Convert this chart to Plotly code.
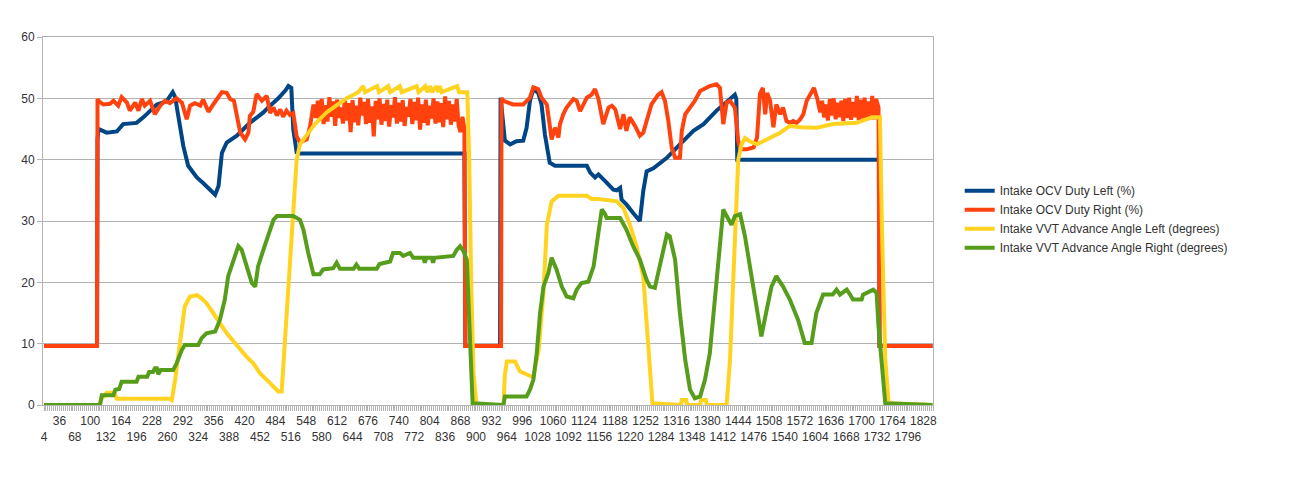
import plotly.graph_objects as go

# ---------------- data ----------------
# x = sample index (category), y = value
blue_x = [4, 114, 115, 117, 134, 155, 168, 196, 210, 224, 238, 258, 271, 276, 286, 293, 303, 321, 334,
          348, 359, 366, 373, 383, 404, 431, 459, 473, 490, 505, 511, 517, 521, 528, 535, 876, 878,
          950, 951, 960, 971, 984, 998, 1005, 1012, 1019, 1029, 1036, 1043, 1053, 1064, 1130, 1137,
          1147, 1154, 1168, 1185, 1192, 1199, 1202, 1212, 1226, 1240, 1247, 1254, 1268, 1296, 1323,
          1351, 1372, 1399, 1427, 1437, 1440, 1442, 1736, 1737, 1847]
blue_y = [9.6, 9.6, 43.3, 45.0, 44.4, 44.6, 45.8, 46.0, 46.9, 48.0, 49.0, 49.5, 51.0, 50.2, 45.8, 42.2,
          39.0, 37.1, 36.2, 35.1, 34.3, 35.7, 41.1, 42.8, 43.9, 46.0, 47.7, 48.8, 50.0, 51.3, 52.0, 51.7,
          45.0, 41.2, 41.0, 41.0, 9.6, 9.6, 50.1, 43.1, 42.5, 43.0, 43.1, 45.2, 49.6, 51.5, 50.9, 49.0,
          44.1, 39.5, 39.0, 39.0, 37.9, 37.1, 37.6, 36.5, 35.1, 35.0, 35.4, 33.5, 32.7, 31.3, 30.0, 34.9,
          38.1, 38.6, 40.3, 42.5, 44.7, 45.8, 48.0, 49.9, 50.6, 49.9, 40.0, 40.0, 9.6, 9.6]

orange_x_a = [4, 114, 115, 117, 127, 141, 148, 158, 165, 176, 182, 193, 200, 207, 213, 224, 234, 245,
              255, 265, 279, 290, 300, 307, 317, 328, 334, 345, 355, 366, 373, 383, 390, 398, 404, 411,
              421, 428, 431, 438, 445, 456, 466, 473, 480, 487, 494, 500, 507, 514, 521, 528, 535, 549,
              556, 563]
orange_y_a = [9.6, 9.6, 49.9, 49.6, 49.0, 49.1, 49.6, 48.8, 50.2, 49.3, 48.0, 49.3, 48.0, 49.9, 48.8,
              49.6, 47.4, 48.8, 49.6, 49.2, 50.0, 49.3, 46.6, 48.8, 49.2, 48.8, 49.8, 47.8, 49.0, 50.4,
              51.0, 50.9, 49.9, 49.6, 47.1, 44.4, 43.3, 44.4, 47.1, 47.8, 50.7, 49.6, 50.4, 47.6, 48.5,
              47.2, 48.2, 47.0, 48.0, 47.3, 47.6, 43.8, 42.8, 43.3, 45.5, 49.0]
orange_x_b = [568, 572, 576, 580, 584, 588, 592, 596, 600, 604, 608, 612, 616, 620, 624, 628, 632, 636,
              640, 644, 648, 652, 656, 660, 664, 668, 672, 676, 680, 684, 688, 692, 696, 700, 704, 708,
              712, 716, 720, 724, 728, 732, 736, 740, 744, 748, 752, 756, 760, 764, 768, 772, 776, 780,
              784, 788, 792, 796, 800, 804, 808, 812, 816, 820, 824, 828, 832, 836, 840, 844, 848, 852,
              856, 860, 864]
orange_y_b = [46.8, 49.6, 46.5, 49.9, 45.8, 48.9, 46.2, 50.2, 47.0, 49.5,
              45.5, 49.8, 46.8, 48.5, 45.9, 50.0, 46.4, 49.2, 44.5, 49.7,
              46.1, 48.8, 45.6, 50.1, 47.2, 49.4, 45.8, 49.9, 46.0, 48.7,
              43.8, 49.6, 46.6, 50.0, 45.7, 49.1, 46.3, 49.8, 45.4, 48.9,
              46.9, 50.2, 45.9, 49.3, 46.2, 49.7, 45.5, 48.6, 47.0, 49.9,
              45.8, 49.4, 46.4, 50.1, 44.9, 49.0, 46.0, 49.8, 45.6, 48.8,
              46.7, 50.0, 45.9, 49.5, 46.1, 49.2, 45.3, 50.3, 46.6, 49.6,
              45.7, 49.0, 46.2, 49.9, 45.5]
orange_x_c = [868, 872, 876, 878, 952, 953, 957, 977, 998, 1012, 1019, 1029, 1036, 1047, 1057, 1064,
              1071, 1074, 1081, 1088, 1095, 1102, 1109, 1116, 1123, 1130, 1140, 1147, 1154, 1164, 1175,
              1182, 1189, 1199, 1206, 1212, 1219, 1230, 1240, 1247, 1254, 1264, 1278, 1285, 1292, 1299,
              1306, 1313, 1323, 1327, 1334, 1344, 1354, 1365, 1385, 1399, 1406, 1413, 1420, 1427, 1437,
              1444, 1448, 1462, 1476, 1483, 1489, 1495, 1500, 1504, 1510, 1517, 1523, 1531, 1537, 1544,
              1551, 1558, 1565, 1572, 1579, 1586, 1593, 1601, 1608, 1614]
orange_y_c = [44.5, 47.0, 45.0, 9.6, 9.6, 50.0, 49.6, 49.0, 49.0, 50.1, 51.8, 51.5, 50.1, 49.0, 43.3,
              45.2, 43.6, 45.7, 47.4, 48.5, 49.3, 49.9, 49.6, 47.9, 49.0, 50.1, 50.6, 51.5, 49.9, 45.8,
              48.5, 48.8, 48.2, 45.0, 47.4, 44.7, 46.9, 45.5, 43.9, 44.4, 46.3, 49.0, 50.6, 51.0, 49.6,
              46.3, 42.0, 40.3, 40.3, 44.7, 47.4, 48.5, 49.6, 51.2, 52.0, 52.3, 51.7, 45.8, 49.3, 49.6,
              48.5, 43.1, 41.7, 41.7, 42.0, 43.6, 50.7, 51.7, 47.4, 50.9, 49.6, 45.3, 49.0, 47.4, 48.5,
              46.3, 46.0, 46.3, 46.0, 46.5, 47.4, 49.6, 50.7, 51.7, 49.9, 47.7]
orange_x_d = [1618, 1622, 1626, 1630, 1634, 1638, 1642, 1646, 1650, 1654, 1658, 1662, 1666, 1670, 1674,
              1678, 1682, 1686, 1690, 1694, 1698, 1702, 1706, 1710, 1714, 1718, 1722, 1726, 1730, 1735,
              1737, 1847]
orange_y_d = [49.6, 46.9, 49.0, 46.4, 49.9, 47.2, 50.0, 46.6, 49.3, 46.9, 49.6, 46.3, 49.9, 46.8, 50.1,
              46.5, 49.4, 46.9, 50.4, 46.4, 49.8, 46.7, 50.1, 46.5, 49.5, 46.6, 50.4, 46.6, 49.9, 48.5,
              9.6, 9.6]

yellow_x = [4, 120, 123, 130, 134, 150, 155, 265, 269, 276, 283, 290, 296, 307, 321, 331, 341, 355, 369,
            383, 397, 411, 424, 438, 452, 466, 480, 490, 497, 500, 507, 514, 521, 528, 535, 549, 563,
            576, 590, 604, 618, 632, 646, 656, 666, 670, 695, 699, 718, 722, 742, 746, 777, 781, 795,
            799, 805, 809, 818, 822, 825, 829, 861, 865, 882, 886, 890, 895, 901, 957, 960, 964, 981,
            991, 1008, 1019, 1030, 1040, 1047, 1057, 1071, 1109, 1130, 1140, 1154, 1192, 1206, 1219,
            1233, 1247, 1254, 1261, 1266, 1325, 1327, 1336, 1338, 1365, 1367, 1377, 1379, 1420, 1427,
            1434, 1439, 1444, 1451, 1458, 1468, 1483, 1503, 1510, 1531, 1551, 1575, 1607, 1641, 1690,
            1721, 1738, 1742, 1749, 1756, 1847]
yellow_y = [0, 0, 1.0, 1.5, 2.0, 2.0, 1.0, 1.0, 0.8, 4.1, 8.5, 12.8, 16.1, 17.7, 17.9, 17.4, 16.6,
            15.0, 13.4, 11.7, 10.4, 9.0, 7.9, 6.8, 5.2, 4.1, 3.0, 2.2, 2.2, 5.7, 13.9, 23.7, 32.4, 40.0,
            42.5, 44.0, 45.5, 46.6, 47.7, 48.5, 49.3, 50.0, 50.6, 51.0, 52.0, 51.0, 52.0, 51.0, 52.0,
            51.0, 52.0, 51.0, 52.0, 51.0, 52.0, 51.0, 52.0, 51.0, 52.0, 51.0, 52.0, 51.0, 52.0, 51.0,
            51.0, 40.0, 20.0, 5.0, 0, 0, 5.0, 7.1, 7.1, 5.5, 4.9, 4.5, 9.0, 18.3, 29.4, 33.2, 34.1,
            34.1, 34.1, 33.6, 33.6, 33.2, 32.1, 29.5, 25.9, 21.0, 12.8, 4.1, 0.3, 0, 0.8, 0.8, 0, 0,
            0.8, 0.8, 0, 0, 7.4, 21.0, 31.9, 40.0, 42.5, 43.5, 43.0, 42.5, 43.3, 43.6, 44.4, 45.5, 45.3,
            45.2, 45.8, 46.0, 46.9, 46.9, 29.1, 7.4, 0.3, 0]

green_x = [4, 120, 124, 148, 152, 160, 165, 196, 200, 218, 222, 230, 234, 238, 241, 246, 272, 279, 290,
           296, 324, 331, 341, 359, 369, 379, 386, 397, 407, 414, 424, 435, 442, 448, 459, 469, 480,
           487, 521, 535, 542, 552, 563, 576, 583, 604, 611, 618, 646, 652, 658, 694, 700, 722, 728,
           742, 749, 763, 770, 791, 794, 797, 808, 811, 814, 853, 860, 867, 874, 881, 884, 889, 893,
           957, 960, 1005, 1012, 1019, 1026, 1033, 1040, 1050, 1057, 1067, 1078, 1088, 1102, 1109,
           1119, 1133, 1144, 1154, 1161, 1168, 1171, 1199, 1212, 1226, 1240, 1254, 1261, 1271, 1282,
           1296, 1302, 1313, 1323, 1334, 1344, 1354, 1365, 1375, 1385, 1396, 1406, 1413, 1420, 1430,
           1437, 1448, 1458, 1468, 1479, 1492, 1503, 1513, 1523, 1537, 1551, 1568, 1582, 1596, 1606,
           1620, 1640, 1648, 1655, 1669, 1676, 1682, 1700, 1703, 1724, 1731, 1735, 1742, 1749, 1847]
green_y = [0, 0, 1.6, 1.6, 2.5, 2.6, 3.8, 3.8, 4.6, 4.6, 5.4, 5.4, 6.0, 6.0, 5.0, 5.7, 5.7, 6.8, 9.0,
           9.8, 9.8, 10.9, 11.7, 12.0, 13.9, 17.2, 21.0, 23.7, 25.9, 25.3, 22.6, 19.9, 19.3, 22.6,
           25.3, 27.5, 30.2, 30.8, 30.8, 30.2, 28.6, 24.8, 21.3, 21.3, 22.1, 22.3, 23.2, 22.2, 22.2,
           22.9, 22.2, 22.2, 23.0, 23.4, 24.8, 24.8, 24.3, 24.8, 24.0, 24.0, 23.2, 24.0, 24.0, 23.2,
           24.0, 24.3, 25.3, 25.9, 25.1, 23.7, 18.3, 7.4, 0.3, 0, 1.4, 1.4, 2.5, 4.1, 8.4, 15.0, 19.3,
           21.5, 24.0, 22.1, 19.3, 17.7, 17.4, 18.8, 19.9, 20.1, 22.6, 28.1, 31.9, 31.1, 30.5, 30.5,
           28.6, 25.9, 23.7, 20.4, 19.3, 19.1, 23.2, 27.8, 27.5, 23.7, 15.0, 7.4, 2.5, 1.1, 1.4, 4.1,
           8.4, 17.2, 26.4, 31.9, 30.8, 29.4, 30.8, 31.1, 27.5, 22.6, 17.2, 11.2, 15.5, 19.3, 21.0,
           19.3, 17.2, 13.9, 10.1, 10.1, 15.0, 18.0, 18.0, 18.8, 18.0, 18.8, 18.0, 17.2, 17.2, 18.0,
           18.8, 18.3, 12.8, 5.7, 0.3, 0]

series_names = ["Intake OCV Duty Left (%)", "Intake OCV Duty Right (%)",
                "Intake VVT Advance Angle Left (degrees)", "Intake VVT Advance Angle Right (degrees)"]
series_colors = ["#004586", "#ff420e", "#ffd320", "#579d1c"]

x_tick_values = [4, 36, 68, 100, 132, 164, 196, 228, 260, 292, 324, 356, 388, 420, 452, 484, 516, 548,
                 580, 612, 644, 676, 708, 740, 772, 804, 836, 868, 900, 932, 964, 996, 1028, 1060, 1092,
                 1124, 1156, 1188, 1220, 1252, 1284, 1316, 1348, 1380, 1412, 1444, 1476, 1508, 1540,
                 1572, 1604, 1636, 1668, 1700, 1732, 1764, 1796, 1828]
y_tick_values = [0, 10, 20, 30, 40, 50, 60]

# ---------------- figure ----------------
orange_x = orange_x_a + orange_x_b + orange_x_c + orange_x_d
orange_y = orange_y_a + orange_y_b + orange_y_c + orange_y_d
xs = [blue_x, orange_x, yellow_x, green_x]
ys = [blue_y, orange_y, yellow_y, green_y]

fig = go.Figure()
for name, color, x, y in zip(series_names, series_colors, xs, ys):
    fig.add_trace(go.Scatter(x=x, y=y, mode="lines", name=name,
                             line=dict(color=color, width=4)))

# staggered labels: even index on lower row, odd index on upper row
tick_text = [("<br>" + str(v)) if i % 2 == 0 else str(v) for i, v in enumerate(x_tick_values)]

font_family = "Liberation Sans, Arial, sans-serif"
fig.update_layout(
    width=1293, height=485,
    margin=dict(l=43, r=360, t=37, b=80),
    paper_bgcolor="white", plot_bgcolor="white",
    font=dict(family=font_family, size=12, color="#333333"),
    showlegend=True,
    legend=dict(x=1.03, y=0.505, xanchor="left", yanchor="middle",
                font=dict(family=font_family, size=12, color="#333333"),
                bgcolor="rgba(0,0,0,0)", tracegroupgap=0, itemwidth=30),
)
fig.update_xaxes(
    range=[1.9, 1848], tickmode="array", tickvals=x_tick_values, ticktext=tick_text,
    showgrid=False, zeroline=False, showline=True, linecolor="#b3b3b3", linewidth=1, mirror=True,
    ticks="outside", ticklen=5, tickcolor="#b3b3b3", tickangle=0,
    tickfont=dict(family=font_family, size=12, color="#333333"),
    minor=dict(ticks="outside", ticklen=5, tickcolor="#b3b3b3", tick0=4, dtick=4, showgrid=False),
)
fig.update_yaxes(
    range=[0, 60], tickmode="array", tickvals=y_tick_values,
    showgrid=True, gridcolor="#b3b3b3", gridwidth=1, zeroline=False,
    showline=True, linecolor="#b3b3b3", linewidth=1, mirror=True,
    ticks="outside", ticklen=5, tickcolor="#b3b3b3",
    tickfont=dict(family=font_family, size=12, color="#333333"),
)

fig.write_html("out.html")
